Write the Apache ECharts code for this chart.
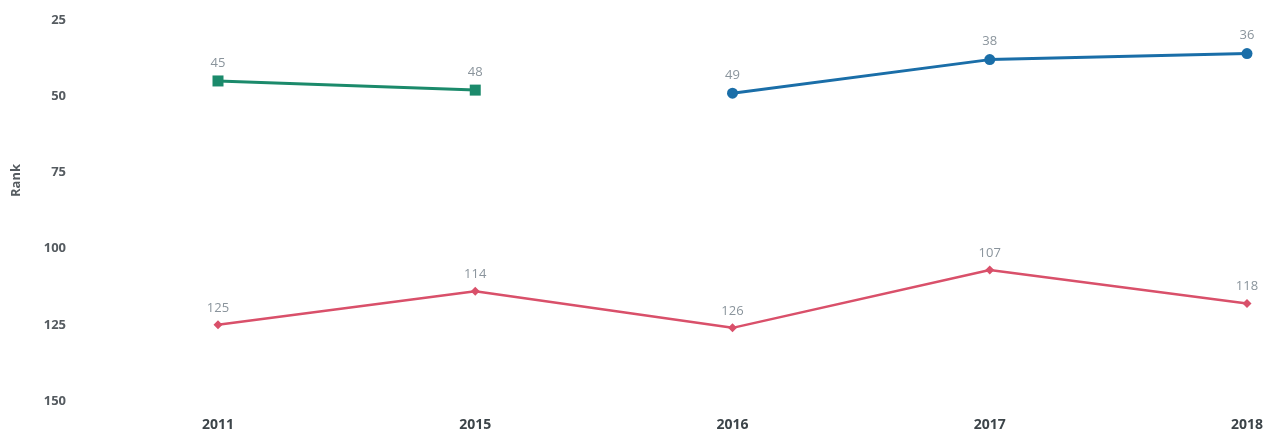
<!DOCTYPE html>
<html>
<head>
<meta charset="utf-8">
<title>Rank</title>
<script src="https://cdn.jsdelivr.net/npm/echarts@6/dist/echarts.min.js"></script>
<style>
body{
margin:0;
background:#ffffff;
}
#chart{
width:1272px;
height:442px;
}
</style>
</head>
<body>
<div id="chart"></div>
<script>

const years=["2011","2015","2016","2017","2018"]
const greenRank=[45,48,null,null,null]
const blueRank=[null,null,49,38,36]
const redRank=[125,114,126,107,118]
const rankTicks=[25,50,75,100,125,150]

const chart=echarts.init(document.getElementById("chart"))

function line(name,data,color,symbol,size,width){
  return {
    name:name,
    type:"line",
    data:data,
    symbol:symbol,
    symbolSize:size,
    connectNulls:false,
    lineStyle:{color:color,width:width},
    itemStyle:{color:color},
    label:{
      show:true,
      position:"top",
      distance:6,
      color:"#8a949c",
      fontFamily:"Open Sans",
      fontSize:13
    }
  }
}

chart.setOption({
  animation:false,
  grid:{left:218,right:25,top:20,bottom:41,containLabel:false,outerBoundsMode:"none"},
  xAxis:{
    type:"category",
    data:years,
    boundaryGap:false,
    axisLine:{show:false},
    axisTick:{show:false},
    axisLabel:{
      margin:17,
      color:"#3c4449",
      fontFamily:"Open Sans",
      fontWeight:"bold",
      fontSize:14
    }
  },
  yAxis:{
    type:"value",
    inverse:true,
    min:rankTicks[0],
    max:rankTicks[rankTicks.length-1],
    interval:25,
    name:"Rank",
    nameLocation:"middle",
    nameGap:195,
    nameTextStyle:{
      color:"#555b60",
      fontFamily:"Open Sans",
      fontWeight:"bold",
      fontSize:13,
      padding:[0,0,0,60]
    },
    axisLine:{show:false},
    axisTick:{show:false},
    splitLine:{show:false},
    axisLabel:{
      margin:152,
      color:"#555b60",
      fontFamily:"Open Sans",
      fontWeight:"bold",
      fontSize:13
    }
  },
  series:[
    line("green",greenRank,"#1b8a6b","rect",11,3),
    line("blue",blueRank,"#1a6ea8","circle",11,3),
    line("red",redRank,"#d9506a","diamond",9,2.5)
  ]
})

</script>
</body>
</html>
